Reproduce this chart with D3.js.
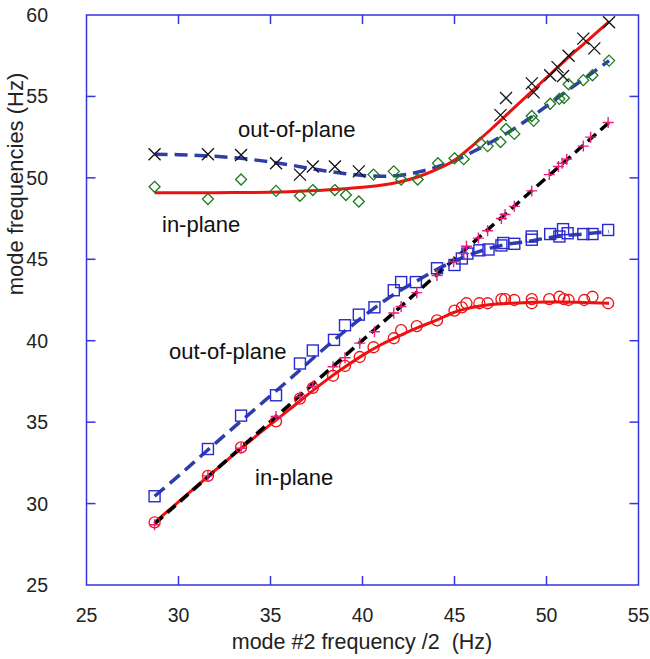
<!DOCTYPE html>
<html>
<head>
<meta charset="utf-8">
<script src="https://cdn.jsdelivr.net/npm/d3@7"></script>
<style>
  body { margin: 0; background: #fff; }
  svg text { font-family: "Liberation Sans", Arial, sans-serif; }
</style>
</head>
<body>
<script>
var crossX = [28.7, 31.6, 33.4, 35.3, 36.6, 37.3, 38.5, 39.8, 47.5, 47.8, 49.2, 49.3, 50.2, 50.6, 50.9, 51.2, 52.0, 52.6, 53.4];
var crossY = [51.45, 51.45, 51.4, 50.9, 50.2, 50.7, 50.7, 50.4, 53.85, 54.9, 55.8, 55.25, 56.3, 56.8, 56.25, 57.5, 58.55, 57.95, 59.55];

var diamondX = [28.7, 31.6, 33.4, 35.3, 36.6, 37.3, 38.5, 39.1, 39.8, 40.6, 41.7, 42.1, 43.0, 44.1, 45.0, 45.5, 46.4, 46.8, 47.5, 47.8, 48.25, 49.2, 49.3, 50.2, 50.7, 50.95, 51.2, 52.0, 52.5, 53.4];
var diamondY = [49.45, 48.7, 49.9, 49.2, 48.9, 49.25, 49.25, 48.95, 48.55, 50.2, 50.4, 49.9, 49.9, 50.9, 51.2, 51.15, 52.15, 51.95, 52.2, 53.0, 52.7, 53.8, 53.5, 54.55, 54.85, 54.9, 55.75, 56.0, 56.3, 57.2];

var squareX = [28.7, 31.6, 33.4, 35.3, 36.6, 37.3, 38.45, 39.05, 39.8, 40.65, 41.7, 42.1, 42.9, 44.05, 45.0, 45.4, 45.7, 46.35, 46.85, 47.55, 47.65, 48.25, 49.2, 49.2, 50.2, 50.7, 50.9, 51.15, 52.0, 52.5, 53.35];
var squareY = [30.45, 33.35, 35.4, 36.65, 38.6, 39.4, 40.05, 40.95, 41.6, 42.05, 43.1, 43.6, 43.6, 44.45, 44.65, 45.05, 45.35, 45.55, 45.6, 45.85, 46.0, 45.95, 46.2, 46.4, 46.55, 46.4, 46.85, 46.6, 46.55, 46.55, 46.8];

var circleX = [28.7, 31.6, 33.4, 35.3, 36.6, 37.3, 38.4, 39.05, 39.85, 40.6, 41.7, 42.1, 42.95, 44.05, 45.0, 45.4, 45.65, 46.35, 46.8, 47.55, 47.75, 48.25, 49.2, 49.2, 50.15, 50.7, 50.95, 51.2, 52.05, 52.5, 53.35];
var circleY = [28.85, 31.7, 33.45, 35.05, 36.45, 37.1, 37.85, 38.45, 39.0, 39.6, 40.15, 40.65, 40.9, 41.25, 41.85, 42.05, 42.3, 42.3, 42.3, 42.55, 42.55, 42.5, 42.55, 42.3, 42.55, 42.7, 42.55, 42.5, 42.5, 42.7, 42.3];

var plusX = [28.7, 31.6, 33.4, 35.3, 36.6, 37.3, 38.4, 39.05, 39.85, 40.65, 41.7, 42.1, 42.95, 44.05, 44.95, 45.5, 45.65, 46.3, 46.8, 47.55, 47.75, 48.25, 49.2, 50.15, 50.65, 50.85, 51.1, 52.0, 52.4, 53.35];
var plusY = [28.7, 31.7, 33.4, 35.35, 36.55, 37.2, 38.4, 38.95, 39.85, 40.55, 41.7, 42.1, 42.95, 44.0, 44.85, 45.35, 45.8, 46.3, 46.75, 47.5, 47.75, 48.25, 49.2, 50.2, 50.7, 50.9, 51.15, 51.95, 52.5, 53.4];

// fitted curves (knots)
var fitX = [28.7, 30, 32, 34, 36, 38, 39, 40, 41, 42, 43, 44, 45, 46, 47, 48, 49, 50, 51, 52, 53.4];
var redUpperY  = [49.08, 49.08, 49.09, 49.1, 49.15, 49.25, 49.33, 49.42, 49.55, 49.75, 50.05, 50.5, 51.08, 52.0, 53.0, 54.05, 55.1, 56.15, 57.2, 58.2, 59.6];
var blueUpperY = [51.45, 51.42, 51.32, 51.12, 50.8, 50.42, 50.27, 50.15, 50.1, 50.15, 50.35, 50.65, 51.05, 51.6, 52.2, 52.85, 53.6, 54.4, 55.25, 56.05, 57.2];
var blueLowerY = [30.45, 31.7, 33.7, 35.65, 37.6, 39.6, 40.55, 41.45, 42.3, 43.05, 43.7, 44.35, 44.9, 45.35, 45.7, 45.95, 46.1, 46.3, 46.45, 46.55, 46.7];
var redLowerY  = [28.85, 30.1, 32.05, 33.95, 35.75, 37.55, 38.35, 39.1, 39.75, 40.3, 40.8, 41.25, 41.75, 42.05, 42.22, 42.3, 42.35, 42.38, 42.38, 42.35, 42.3];
var diagX = [28.7, 53.4];
var diagY = [28.75, 53.4];

var xTicks = [25, 30, 35, 40, 45, 50, 55];
var yTicks = [25, 30, 35, 40, 45, 50, 55, 60];

var labels = [
  {text: "out-of-plane", x: 238, y: 137},
  {text: "in-plane", x: 162, y: 232},
  {text: "out-of-plane", x: 169, y: 359},
  {text: "in-plane", x: 255, y: 485}
];

var W = 650, H = 659;
var pL = 86.5, pR = 638.5, pT = 15, pB = 585;
var axisColor = "#3535dd";

var svg = d3.select("body").append("svg")
  .attr("width", W).attr("height", H);

var x = d3.scaleLinear().domain([25, 55]).range([pL, pR]);
var y = d3.scaleLinear().domain([25, 60]).range([pB, pT]);

function pts(xs, ys) {
  return xs.map(function(v, i) { return [v, ys[i]]; });
}

var line = d3.line()
  .x(function(d) { return x(d[0]); })
  .y(function(d) { return y(d[1]); })
  .curve(d3.curveMonotoneX);

// curves
svg.append("path").datum(pts(fitX, blueUpperY)).attr("d", line)
  .attr("fill", "none").attr("stroke", "#2f3ea6").attr("stroke-width", 3.5)
  .attr("stroke-dasharray", "13,7");
svg.append("path").datum(pts(fitX, redUpperY)).attr("d", line)
  .attr("fill", "none").attr("stroke", "#ee1111").attr("stroke-width", 3);
svg.append("path").datum(pts(fitX, blueLowerY)).attr("d", line)
  .attr("fill", "none").attr("stroke", "#2f3ea6").attr("stroke-width", 3.5)
  .attr("stroke-dasharray", "13,7");
svg.append("path").datum(pts(fitX, redLowerY)).attr("d", line)
  .attr("fill", "none").attr("stroke", "#ee1111").attr("stroke-width", 3);
svg.append("path").datum(pts(diagX, diagY)).attr("d", d3.line()
    .x(function(d) { return x(d[0]); })
    .y(function(d) { return y(d[1]); }))
  .attr("fill", "none").attr("stroke", "#000").attr("stroke-width", 3.5)
  .attr("stroke-dasharray", "11,6");

// markers
svg.append("g").selectAll("rect").data(pts(squareX, squareY)).enter()
  .append("rect")
  .attr("x", function(d) { return x(d[0]) - 5.5; })
  .attr("y", function(d) { return y(d[1]) - 5.5; })
  .attr("width", 11).attr("height", 11)
  .attr("fill", "none").attr("stroke", "#2a2ad0").attr("stroke-width", 1.4);

svg.append("g").selectAll("circle").data(pts(circleX, circleY)).enter()
  .append("circle")
  .attr("cx", function(d) { return x(d[0]); })
  .attr("cy", function(d) { return y(d[1]); })
  .attr("r", 5.5)
  .attr("fill", "none").attr("stroke", "#ee1111").attr("stroke-width", 1.3);

svg.append("g").selectAll("path").data(pts(plusX, plusY)).enter()
  .append("path")
  .attr("d", function(d) {
    var cx = x(d[0]), cy = y(d[1]), s = 5.5;
    return "M" + (cx - s) + "," + cy + "H" + (cx + s) + "M" + cx + "," + (cy - s) + "V" + (cy + s);
  })
  .attr("stroke", "#e8207a").attr("stroke-width", 1.4).attr("fill", "none");

svg.append("g").selectAll("path").data(pts(diamondX, diamondY)).enter()
  .append("path")
  .attr("d", function(d) {
    var cx = x(d[0]), cy = y(d[1]), s = 5.5;
    return "M" + cx + "," + (cy - s) + "L" + (cx + s) + "," + cy + "L" + cx + "," + (cy + s) + "L" + (cx - s) + "," + cy + "Z";
  })
  .attr("fill", "none").attr("stroke", "#1e7b1e").attr("stroke-width", 1.3);

svg.append("g").selectAll("path").data(pts(crossX, crossY)).enter()
  .append("path")
  .attr("d", function(d) {
    var cx = x(d[0]), cy = y(d[1]), s = 6;
    return "M" + (cx - s) + "," + (cy - s) + "L" + (cx + s) + "," + (cy + s) +
      "M" + (cx - s) + "," + (cy + s) + "L" + (cx + s) + "," + (cy - s);
  })
  .attr("stroke", "#111").attr("stroke-width", 1.3).attr("fill", "none");

// frame and ticks
svg.append("rect")
  .attr("x", pL).attr("y", pT)
  .attr("width", pR - pL).attr("height", pB - pT)
  .attr("fill", "none").attr("stroke", axisColor).attr("stroke-width", 1.5);

var tl = 9;
xTicks.slice(1, -1).forEach(function(t) {
  svg.append("line").attr("x1", x(t)).attr("x2", x(t)).attr("y1", pB).attr("y2", pB - tl)
    .attr("stroke", axisColor).attr("stroke-width", 1.5);
  svg.append("line").attr("x1", x(t)).attr("x2", x(t)).attr("y1", pT).attr("y2", pT + tl)
    .attr("stroke", axisColor).attr("stroke-width", 1.5);
});
yTicks.slice(1, -1).forEach(function(t) {
  svg.append("line").attr("x1", pL).attr("x2", pL + tl).attr("y1", y(t)).attr("y2", y(t))
    .attr("stroke", axisColor).attr("stroke-width", 1.5);
  svg.append("line").attr("x1", pR).attr("x2", pR - tl).attr("y1", y(t)).attr("y2", y(t))
    .attr("stroke", axisColor).attr("stroke-width", 1.5);
});

svg.append("g").selectAll("text").data(xTicks).enter()
  .append("text")
  .attr("x", function(d) { return x(d); })
  .attr("y", pB + 37)
  .attr("text-anchor", "middle")
  .attr("font-size", 19.5).attr("fill", "#222")
  .text(function(d) { return d; });

svg.append("g").selectAll("text").data(yTicks).enter()
  .append("text")
  .attr("x", 48)
  .attr("y", function(d) { return y(d) + 7; })
  .attr("text-anchor", "end")
  .attr("font-size", 19.5).attr("fill", "#222")
  .text(function(d) { return d; });

svg.append("text")
  .attr("x", 362).attr("y", 649)
  .attr("text-anchor", "middle").attr("font-size", 21.5).attr("fill", "#222")
  .style("white-space", "pre")
  .text("mode #2 frequency /2  (Hz)");

svg.append("text")
  .attr("transform", "translate(23,184) rotate(-90)")
  .attr("text-anchor", "middle").attr("font-size", 22).attr("fill", "#222")
  .text("mode frequencies (Hz)");

svg.append("g").selectAll("text").data(labels).enter()
  .append("text")
  .attr("x", function(d) { return d.x; })
  .attr("y", function(d) { return d.y; })
  .attr("font-size", 22).attr("fill", "#111")
  .text(function(d) { return d.text; });
</script>
</body>
</html>
